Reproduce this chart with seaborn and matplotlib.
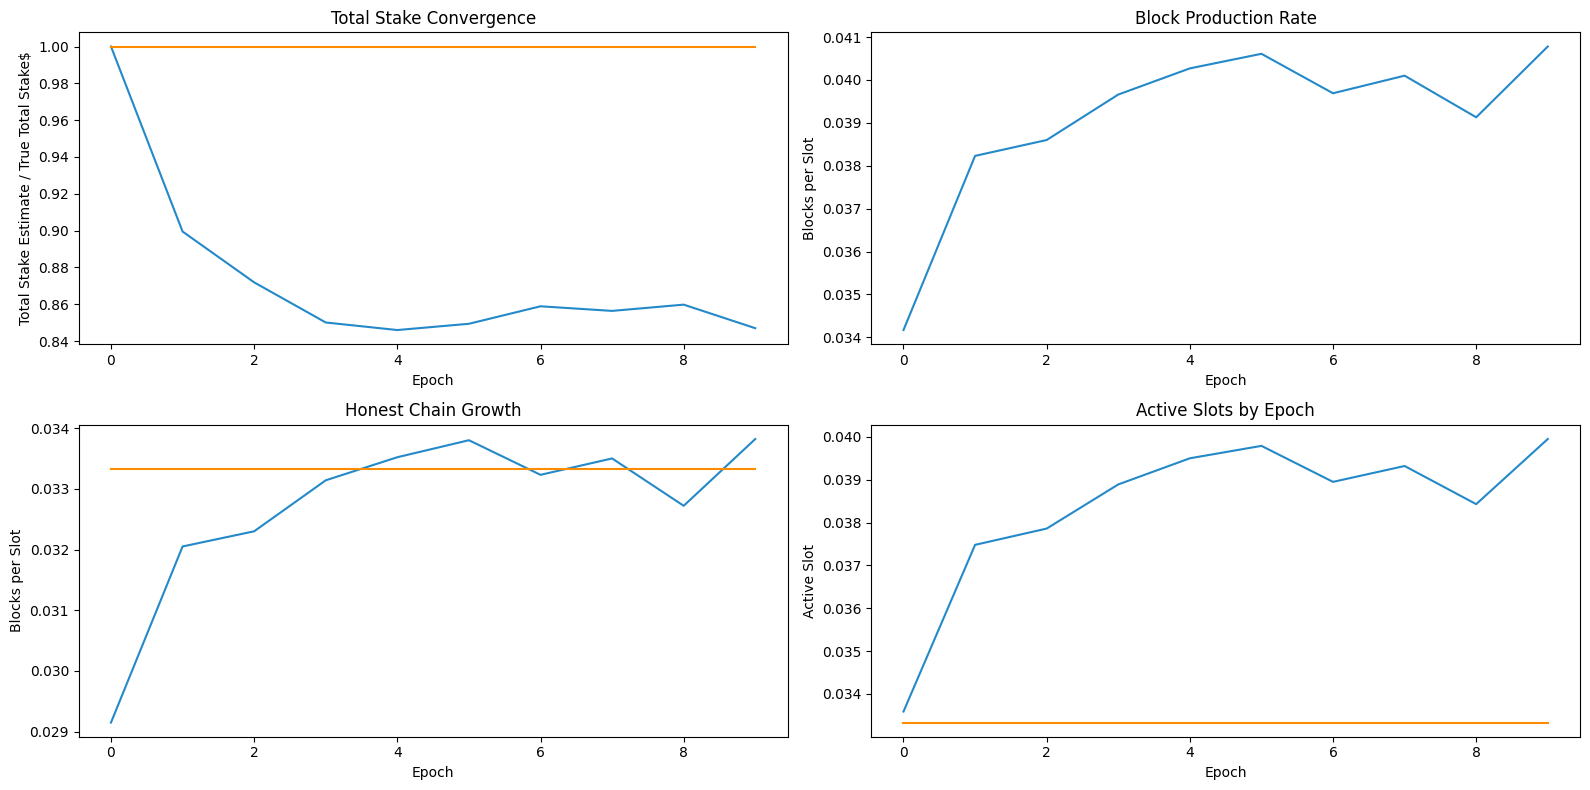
import pandas as pd
import seaborn as sns
import matplotlib
matplotlib.use("Agg")
import matplotlib.pyplot as plt

# values
epochs = list(range(10))
stake_ratio = [1.000, 0.8995, 0.8719, 0.8501, 0.8460, 0.8494, 0.8589, 0.8564, 0.8598, 0.8470]
stake_target = [1.0] * 10
block_rate = [0.03417, 0.03823, 0.03860, 0.03966, 0.04027, 0.04061, 0.03969, 0.04010, 0.03913, 0.04078]
honest_growth = [0.02915, 0.03205, 0.03230, 0.03314, 0.03352, 0.03380, 0.03323, 0.03350, 0.03272, 0.03382]
honest_target = [1 / 30] * 10
active_slots = [0.03359, 0.03748, 0.03786, 0.03889, 0.03950, 0.03979, 0.03895, 0.03932, 0.03843, 0.03995]
active_target = [1 / 30] * 10

blue = "#2389c9"
orange = "#ff8c00"

df = pd.DataFrame({
    "epoch": epochs,
    "stake": stake_ratio,
    "stake_t": stake_target,
    "rate": block_rate,
    "honest": honest_growth,
    "honest_t": honest_target,
    "active": active_slots,
    "active_t": active_target,
})

fig, axes = plt.subplots(2, 2, figsize=(16, 8), dpi=100)

# top left: stake estimate vs truth
ax = axes[0, 0]
sns.lineplot(x="epoch", y="stake", data=df, ax=ax, color=blue)
sns.lineplot(x="epoch", y="stake_t", data=df, ax=ax, color=orange)
ax.set(title="Total Stake Convergence", xlabel="Epoch",
       ylabel="Total Stake Estimate / True Total Stake$")

# top right: block production
ax = axes[0, 1]
sns.lineplot(x="epoch", y="rate", data=df, ax=ax, color=blue)
ax.set(title="Block Production Rate", xlabel="Epoch", ylabel="Blocks per Slot")

# bottom left: honest chain growth
ax = axes[1, 0]
sns.lineplot(x="epoch", y="honest", data=df, ax=ax, color=blue)
sns.lineplot(x="epoch", y="honest_t", data=df, ax=ax, color=orange)
ax.set(title="Honest Chain Growth", xlabel="Epoch", ylabel="Blocks per Slot")

# bottom right: active slots
ax = axes[1, 1]
sns.lineplot(x="epoch", y="active", data=df, ax=ax, color=blue)
sns.lineplot(x="epoch", y="active_t", data=df, ax=ax, color=orange)
ax.set(title="Active Slots by Epoch", xlabel="Epoch", ylabel="Active Slot")

plt.tight_layout()
plt.savefig("out.png", bbox_inches="tight")
